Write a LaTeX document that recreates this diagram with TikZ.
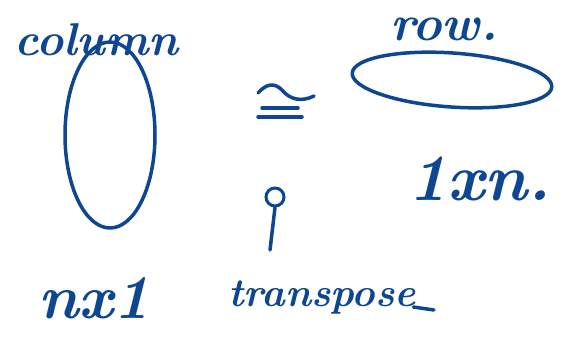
\documentclass[tikz,border=0pt]{standalone}
\usepackage{tikz}
\usetikzlibrary{positioning,calc}
\definecolor{ink}{RGB}{14,70,145}
\tikzset{
  pen/.style={draw=ink,line width=3.5pt,line cap=round,line join=round},
  scrawl/.style={text=ink,font=\fontsize{#1}{#1}\selectfont\bfseries\itshape,inner sep=0pt},
  scrawl/.default=30
}

\begin{document}
\begin{tikzpicture}[x=1pt,y=-1pt]
  \useasboundingbox (0,0) rectangle (564,343);

  % column vector
  \node[scrawl=46,anchor=base west] (column-text) at (14,55) {column};
  \draw[pen] (110,135) ellipse [x radius=45,y radius=93];

  % row vector
  \node[scrawl=50,anchor=base west] (row-text) at (390,40) {row.};
  \draw[pen,rotate around={-4:(452,80)}] (452,80) ellipse [x radius=100,y radius=27];

  % iso sign
  \draw[pen] (258,93) .. controls (266,84) and (274,82) .. (282,90)
    .. controls (290,100) and (302,102) .. (314,96);
  \draw[pen] (262,108) -- (298,108);
  \draw[pen] (258,117) -- (302,117);

  % note under the sign
  \node[draw=ink,line width=3pt,circle,minimum size=18pt,inner sep=0pt] (pin) at (275,197) {};
  \coordinate (pin-end) at (270,250);
  \draw[pen] (pin.south) -- (pin-end);

  % sizes
  \node[scrawl=66,anchor=base west] (size-row) at (408,200) {1xn.};
  \node[scrawl=62,anchor=base west] (size-col) at (38,318) {nx1};
  \node[scrawl=40,anchor=base west] (transpose) at (228,306) {transpose};
  \coordinate (tail-start) at ($(transpose.base east)+(-3,1)$);
  \coordinate (tail) at (434,310);
  \draw[pen] (tail-start) -- (tail);
\end{tikzpicture}
\end{document}
